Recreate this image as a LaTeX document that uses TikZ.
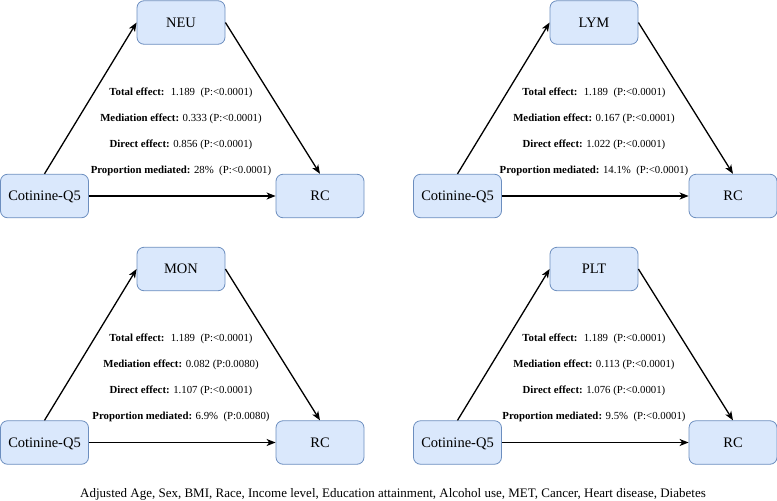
\documentclass[tikz,border=0pt]{standalone}
\usepackage{fontspec}
\setmainfont{Liberation Serif}
\usetikzlibrary{arrows.meta}
\definecolor{boxfill}{HTML}{DAE8FC}
\definecolor{boxdraw}{HTML}{6C8EBF}
\tikzset{
  varbox/.style={draw=boxdraw, fill=boxfill, rounded corners=7pt, minimum width=88pt,
    minimum height=43.5pt, inner sep=0pt, line width=0.8pt,
    font=\fontsize{14.5}{17}\selectfont, text height=9.6pt, text depth=0pt},
  effect/.style={anchor=base, font=\fontsize{10.8}{13}\selectfont, inner sep=0pt},
  caption/.style={anchor=base, font=\fontsize{13}{15}\selectfont, inner sep=0pt},
  conn/.style={line width=1.3pt, -{Stealth[length=9pt,width=7pt,inset=2.5pt]}},
}
% #1 id, #2 dx, #3 dy, #4 mediator, #5 mediation effect, #6 direct effect,
% #7 proportion, #8 p of mediation, #9 p of proportion
\newcommand\mypanel[9]{%
  \begin{scope}[shift={(#2,#3)}]
    \node[varbox] (med#1) at (181,22.5) {#4};
    \node[varbox] (cot#1) at (44.5,196) {Cotinine-Q5};
    \node[varbox] (rc#1) at (320,196) {RC};
    \node[effect] (tot#1) at (181,95) {\textbf{Total effect:}~ 1.189~ (P:<0.0001)};
    \node[effect] (mde#1) at (181,121) {\textbf{Mediation effect:} #5 (P:#8)};
    \node[effect] (dir#1) at (181,147) {\textbf{Direct effect:} #6 (P:<0.0001)};
    \node[effect] (pro#1) at (181,173) {\textbf{Proportion mediated:} #7\enspace(P:#9)};
    \draw[conn] (cot#1.north) -- (med#1.west);
    \draw[conn] (med#1.east) -- (rc#1.north);
    \draw[conn] (cot#1.east) -- (rc#1.west);
  \end{scope}}
\begin{document}
\begin{tikzpicture}[x=1pt,y=-1pt]
  \useasboundingbox (0,0) rectangle (777,501);
  \mypanel{a}{0}{0}{NEU}{0.333}{0.856}{28\%}{<0.0001}{<0.0001}
  \mypanel{b}{413}{0}{LYM}{0.167}{1.022}{14.1\%}{<0.0001}{<0.0001}
  \mypanel{c}{0}{246.5}{MON}{0.082}{1.107}{6.9\%}{0.0080}{0.0080}
  \mypanel{d}{413}{246.5}{PLT}{0.113}{1.076}{9.5\%}{<0.0001}{<0.0001}
  \node[caption] (adj) at (393,497) {Adjusted Age, Sex, BMI, Race, Income level, Education attainment, Alcohol use, MET, Cancer, Heart disease, Diabetes};
\end{tikzpicture}
\end{document}
